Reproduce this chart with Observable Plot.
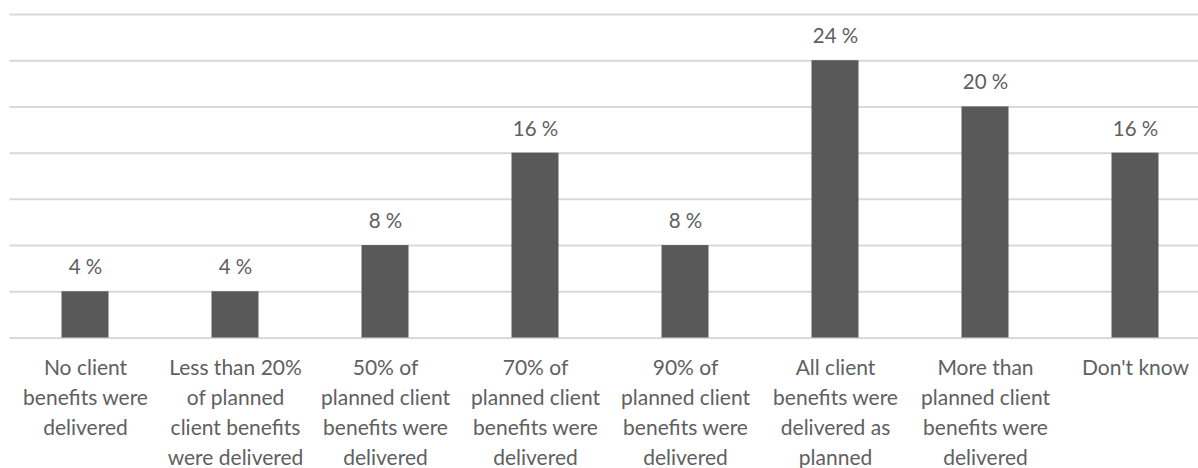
<!DOCTYPE html>
<html>
<head>
<meta charset="utf-8">
<script src="https://cdn.jsdelivr.net/npm/d3@7"></script>
<script src="https://cdn.jsdelivr.net/npm/@observablehq/plot@0.6"></script>
<style>
  html, body { margin: 0; padding: 0; background: #fff; }
  #chart svg { display: block; }
</style>
</head>
<body>
<div id="chart"></div>
<script>
const categories = [
  "No client\nbenefits were\ndelivered",
  "Less than 20%\nof planned\nclient benefits\nwere delivered",
  "50% of\nplanned client\nbenefits were\ndelivered",
  "70% of\nplanned client\nbenefits were\ndelivered",
  "90% of\nplanned client\nbenefits were\ndelivered",
  "All client\nbenefits were\ndelivered as\nplanned",
  "More than\nplanned client\nbenefits were\ndelivered",
  "Don't know"
];
const values = [4, 4, 8, 16, 8, 24, 20, 16];
const gridTicks = [0, 4, 8, 12, 16, 20, 24, 28];

const data = categories.map((c, i) => ({category: c, value: values[i]}));

const chart = Plot.plot({
  width: 1198,
  height: 468,
  marginTop: 14,
  marginBottom: 130.5,
  marginLeft: 9.5,
  marginRight: 0,
  style: {fontFamily: "Lato, sans-serif", background: "#fff"},
  x: {domain: categories, range: [9.5, 1209.5], padding: 0},
  y: {domain: [0, 28], axis: null},
  marks: [
    Plot.ruleY(gridTicks, {stroke: "#d9d9d9", strokeWidth: 2}),
    Plot.barY(data, {x: "category", y: "value", fill: "#595959", insetLeft: 51.5, insetRight: 51.5}),
    Plot.text(data, {x: "category", y: "value", text: d => `${d.value} %`, dy: -24, fill: "#606060", fontSize: 20.5}),
    Plot.axisX({tickSize: 0, tickPadding: 16, fontSize: 21, lineHeight: 1.43, fill: "#606060", label: null, lineAnchor: "top"})
  ]
});
document.getElementById("chart").appendChild(chart);
</script>
</body>
</html>
